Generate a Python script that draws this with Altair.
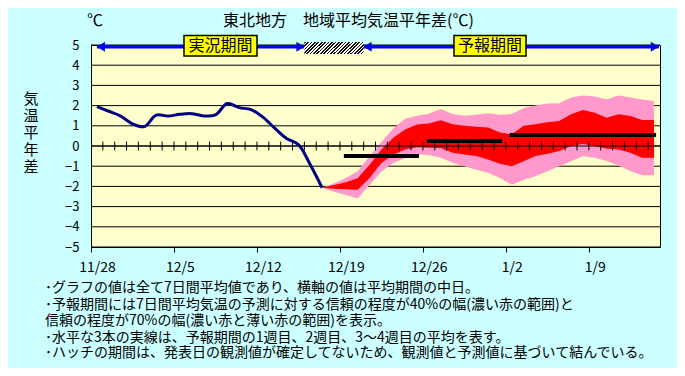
import altair as alt
import pandas as pd

# ---------------- data ----------------
dates = pd.date_range("2023-11-28", "2024-01-14", freq="D")
x_tick_labels = ["11/28", "12/5", "12/12", "12/19", "12/26", "1/2", "1/9"]
y_ticks = [-5, -4, -3, -2, -1, 0, 1, 2, 3, 4, 5]

# observed 7-day mean anomaly, 11/28 .. 12/17
obs_values = [1.95, 1.72, 1.48, 1.10, 0.96, 1.53, 1.48, 1.57, 1.60, 1.49, 1.54,
              2.10, 1.90, 1.80, 1.43, 0.88, 0.37, 0.07, -0.93, -2.07]
# forecast ranges, 12/17 .. 1/14
fc_upper70 = [-2.07, -1.84, -1.59, -1.25, -0.50, 0.20, 0.87, 1.35, 1.50, 1.60,
              1.83, 1.58, 1.50, 1.55, 1.62, 1.55, 1.58, 1.88, 2.00, 2.10,
              2.12, 2.40, 2.50, 2.45, 2.30, 2.50, 2.40, 2.30, 2.23]
fc_upper40 = [-2.07, -1.93, -1.79, -1.60, -0.93, -0.17, 0.41, 0.82, 1.07, 1.11,
              1.28, 1.08, 1.00, 0.95, 0.92, 0.67, 0.58, 1.00, 1.08, 1.18,
              1.24, 1.57, 1.78, 1.65, 1.40, 1.57, 1.49, 1.29, 1.29]
fc_lower40 = [-2.07, -2.12, -2.14, -2.17, -1.59, -0.84, -0.43, -0.17, -0.06, -0.09,
              -0.10, -0.33, -0.42, -0.50, -0.67, -0.88, -1.00, -0.75, -0.50, -0.38,
              -0.25, 0.00, 0.10, 0.00, -0.13, -0.17, -0.33, -0.58, -0.58]
fc_lower70 = [-2.07, -2.26, -2.42, -2.60, -1.93, -1.26, -0.84, -0.59, -0.42, -0.45,
              -0.58, -0.83, -1.00, -1.17, -1.33, -1.58, -1.92, -1.67, -1.50, -1.25,
              -1.00, -0.75, -0.50, -0.58, -0.74, -0.96, -1.24, -1.45, -1.45]

# weekly means (1st week, 2nd week, 3rd-4th weeks)
week_start = ["2023-12-19", "2023-12-26", "2024-01-02"]
week_end = ["2023-12-25", "2024-01-01", "2024-01-14"]
week_mean = [-0.5, 0.25, 0.55]

# periods in day units: observed, hatched, forecast
period_start = [0, 22.5]
period_end = [17.5, 47.4]
hatch_span = [17.5, 22.5]

title_text = "東北地方　地域平均気温平年差(℃)"
ylabel_chars = ["気", "温", "平", "年", "差"]
notes = [
    "･グラフの値は全て7日間平均値であり、横軸の値は平均期間の中日。",
    "･予報期間には7日間平均気温の予測に対する信頼の程度が40%の幅(濃い赤の範囲)と",
    "信頼の程度が70%の幅(濃い赤と薄い赤の範囲)を表示。",
    "･水平な3本の実線は、予報期間の1週目、2週目、3～4週目の平均を表す。",
    "･ハッチの期間は、発表日の観測値が確定してないため、観測値と予測値に基づいて結んでいる。",
]

# ---------------- tables ----------------
def day(s):
    return (pd.Timestamp(s) - dates[0]).days

n_days = len(dates)
obs_df = pd.DataFrame({"d": list(range(len(obs_values))), "v": obs_values})
fc_start = len(obs_values) - 1
fc_df = pd.DataFrame({
    "d": list(range(fc_start, fc_start + len(fc_upper70))),
    "hi70": fc_upper70, "hi40": fc_upper40, "lo40": fc_lower40, "lo70": fc_lower70,
})
week_df = pd.DataFrame({"s": [day(s) for s in week_start],
                        "e": [day(e) for e in week_end], "m": week_mean})
bnd_df = pd.DataFrame({"b": [i + 0.5 for i in range(n_days - 1)]})
period_df = pd.DataFrame({"s": period_start, "e": period_end})
grid_df = pd.DataFrame({"g": y_ticks})
one = pd.DataFrame({"k": [0]})

# ---------------- layout ----------------
W, H = 569, 202
FONT = "Noto Sans CJK JP"
X_DOMAIN = [-0.5, n_days - 0.5]
half_day_px = W / n_days / 2

xscale = alt.Scale(domain=X_DOMAIN, nice=False, zero=False)
yscale = alt.Scale(domain=[-5, 5], nice=False, zero=False)

label_arr = "[" + ",".join(f"'{l}'" for l in x_tick_labels) + "]"
x_axis = alt.Axis(values=[-0.5 + 7 * i for i in range(len(x_tick_labels))],
                  labelExpr=f"{label_arr}[round((datum.value + 0.5) / 7)]",
                  labelOffset=half_day_px, tickSize=5, tickColor="black", ticks=True,
                  domain=False, grid=False, labelFlush=False, labelOverlap=False,
                  labelPadding=8, labelFontSize=14, labelColor="black", labelFont=FONT)
y_axis = alt.Axis(values=y_ticks, tickCount=len(y_ticks), grid=False,
                  ticks=False, domain=True, domainColor="black", labelPadding=12,
                  labelOverlap=False, labelFlush=False, labelBound=False,
                  labelFontSize=13, labelColor="black", labelFont=FONT,
                  labelExpr="replace(datum.label, '-', '−')")

# horizontal gridlines (drawn under the bands)
grid = alt.Chart(grid_df).mark_rule(color="black", strokeWidth=1).encode(
    x=alt.datum(X_DOMAIN[0]), x2=alt.datum(X_DOMAIN[1]),
    y=alt.Y("g:Q", scale=yscale, axis=y_axis, title=None))
pink = alt.Chart(fc_df).mark_area(color="#FF99CC", opacity=1).encode(
    x=alt.X("d:Q", scale=xscale, axis=x_axis, title=None),
    y=alt.Y("lo70:Q", title=None),
    y2="hi70:Q")
red = alt.Chart(fc_df).mark_area(color="#FF0000", opacity=1).encode(
    x=alt.X("d:Q", title=None), y=alt.Y("lo40:Q", title=None), y2="hi40:Q")
zero = alt.Chart(one).mark_rule(color="black", strokeWidth=1).encode(
    x=alt.datum(X_DOMAIN[0]), x2=alt.datum(X_DOMAIN[1]), y=alt.datum(0))
zticks = alt.Chart(bnd_df).mark_rule(color="black", strokeWidth=1).encode(
    x=alt.X("b:Q", title=None), y=alt.datum(-0.22), y2=alt.datum(0.22))
obs = alt.Chart(obs_df).mark_line(color="#000080", strokeWidth=3,
                                  interpolate="catmull-rom").encode(
    x=alt.X("d:Q", title=None), y=alt.Y("v:Q", title=None))
weeks = alt.Chart(week_df).mark_rule(color="black", strokeWidth=4, strokeCap="square").encode(
    x=alt.X("s:Q", title=None), x2="e:Q", y=alt.Y("m:Q", title=None))

# top annotations
ARROW_Y = 1.7
arrows = alt.Chart(period_df).mark_rule(color="#0000FF", strokeWidth=3.5).encode(
    x=alt.X("s:Q", title=None), x2="e:Q", y=alt.value(ARROW_Y))
left_tips = alt.Chart(period_df).mark_point(
    shape="M 0 0 L 1.6 -1 L 1.6 1 Z", filled=True, color="#0000FF", size=100, opacity=1
).encode(x=alt.X("s:Q", title=None), y=alt.value(ARROW_Y))
right_tips = alt.Chart(period_df).mark_point(
    shape="M 0 0 L -1.6 -1 L -1.6 1 Z", filled=True, color="#0000FF", size=100, opacity=1
).encode(x=alt.X("e:Q", title=None), y=alt.value(ARROW_Y))

N = 42
stops = []
for i in range(N):
    c = "#111111" if i % 2 == 0 else "#FFFFFF"
    stops.append({"offset": i / N, "color": c})
    stops.append({"offset": (i + 1) / N, "color": c})
hatch_fill = {"gradient": "linear", "x1": 0, "y1": 0, "x2": 1.157, "y2": 0.24, "stops": stops}
hatch = alt.Chart(one).mark_rect(fill=hatch_fill).encode(
    x=alt.datum(hatch_span[0]), x2=alt.datum(hatch_span[1]),
    y=alt.value(-3), y2=alt.value(9))

box1 = alt.Chart(one).mark_rect(fill="#FFFF00", stroke="black", strokeWidth=1.5).encode(
    x=alt.value(93), x2=alt.value(166), y=alt.value(-9.5), y2=alt.value(11))
box2 = alt.Chart(one).mark_rect(fill="#FFFF00", stroke="black", strokeWidth=1.5).encode(
    x=alt.value(363), x2=alt.value(435), y=alt.value(-9.5), y2=alt.value(11))
box1_t = alt.Chart(one).mark_text(text="実況期間", font=FONT, fontSize=16, color="black",
                                  baseline="middle").encode(x=alt.value(129.5), y=alt.value(0.8))
box2_t = alt.Chart(one).mark_text(text="予報期間", font=FONT, fontSize=16, color="black",
                                  baseline="middle").encode(x=alt.value(399), y=alt.value(0.8))

title = alt.Chart(one).mark_text(text=title_text, font=FONT, fontSize=16, color="black",
                                 align="left", baseline="middle").encode(
    x=alt.value(132), y=alt.value(-24))
unit = alt.Chart(one).mark_text(text="℃", font=FONT, fontSize=16, color="black",
                                align="left", baseline="middle").encode(
    x=alt.value(-4), y=alt.value(-24))
ytitle = alt.Chart(one).mark_text(text=ylabel_chars, font=FONT, fontSize=15, lineHeight=17,
                                  color="black", align="center", baseline="top").encode(
    x=alt.value(-60), y=alt.value(47))

note_y = [243.3, 260, 276, 292.7, 308.3]
note_layers = [
    alt.Chart(one).mark_text(text=t, font=FONT, fontSize=14, color="black",
                             align="left", baseline="middle").encode(
        x=alt.value(-46), y=alt.value(yy))
    for t, yy in zip(notes, note_y)
]

chart = alt.layer(
    grid, pink, red, zero, zticks, obs, weeks,
    arrows, left_tips, right_tips, hatch, box1, box2, box1_t, box2_t,
    title, unit, ytitle, *note_layers
).properties(
    width=W, height=H,
    autosize=alt.AutoSizeParams(type="none"),
    padding={"left": 83, "top": 37, "right": 17, "bottom": 121},
    background="#CCFFFF",
).configure_view(fill="#FFFFCC", stroke="black", strokeWidth=1)

chart.save("out.html", embed_options={"renderer": "svg", "actions": False})
